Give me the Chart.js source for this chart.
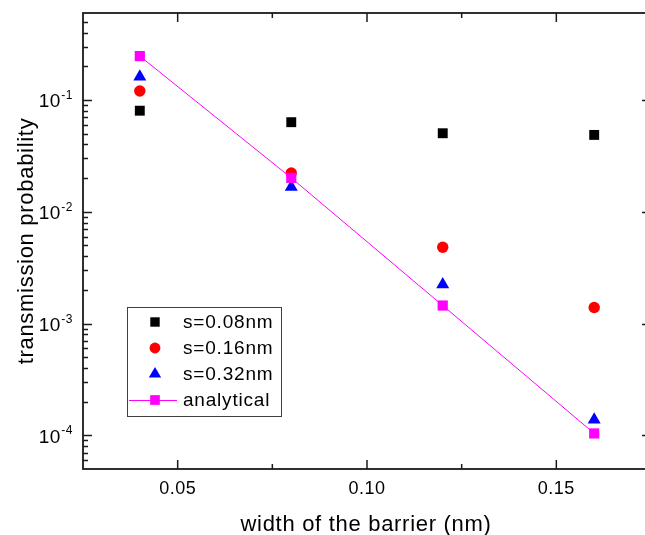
<!DOCTYPE html>
<html><head><meta charset="utf-8">
<script src="https://cdn.jsdelivr.net/npm/chart.js@4"></script>
<style>html,body{margin:0;padding:0;background:#fff;overflow:hidden;} #wrap{width:660px;height:535px;position:relative;}</style>
</head><body><div id="wrap"><canvas id="c" width="660" height="535"></canvas></div>
<script>
const widths = [0.04, 0.08, 0.12, 0.16];
const s008 = [0.0802, 0.0633, 0.0504, 0.0487];
const s016 = [0.1203, 0.0222, 0.00481, 0.00139];
const s032 = [0.161, 0.0167, 0.00224, 0.000138];
const analytical = [0.247, 0.0201, 0.00145, 0.000104];
const seriesNames = ['s=0.08nm', 's=0.16nm', 's=0.32nm', 'analytical'];
const xTickValues = [0.05, 0.10, 0.15];
const xTickLabels = ['0.05', '0.10', '0.15'];
const xMinorValues = [0.075, 0.125];
const yTickExponents = [-1, -2, -3, -4];
const xTitle = 'width of the barrier (nm)';
const yTitle = 'transmission probability';

const FONT = '"Liberation Sans", Arial, sans-serif';
const pts = arr => widths.map((x, i) => ({x: x, y: arr[i]}));

const styles = [
  {style: 'rect', r: 7, color: '#000000'},
  {style: 'circle', r: 5.7, color: '#ff0000'},
  {style: 'triangle', r: 7.5, color: '#0000ff'},
  {style: 'rect', r: 7.2, color: '#ff00ff'}
];

const decor = {
  id: 'decor',
  afterDraw(chart) {
    const ctx = chart.ctx;
    const a = chart.chartArea;
    const xs = chart.scales.x, ys = chart.scales.y;
    ctx.save();
    ctx.strokeStyle = '#1a1a1a';
    ctx.lineWidth = 1.8;
    ctx.strokeRect(a.left, a.top, a.right - a.left, a.bottom - a.top);
    ctx.lineWidth = 1.5;
    const MAJ = 9, MIN = 5;
    const line = (x1, y1, x2, y2) => { ctx.beginPath(); ctx.moveTo(x1, y1); ctx.lineTo(x2, y2); ctx.stroke(); };
    xTickValues.forEach(v => { const p = xs.getPixelForValue(v); line(p, a.bottom, p, a.bottom - MAJ); line(p, a.top, p, a.top + MAJ); });
    xMinorValues.forEach(v => { const p = xs.getPixelForValue(v); line(p, a.bottom, p, a.bottom - MIN); line(p, a.top, p, a.top + MIN); });
    for (let e = -5; e <= 0; e++) {
      for (let m = 1; m <= 9; m++) {
        const v = m * Math.pow(10, e);
        if (v <= ys.min * 1.0001 || v >= ys.max * 0.9999) continue;
        const p = Math.round(ys.getPixelForValue(v)) + 0.5;
        const L = m === 1 ? MAJ : MIN;
        line(a.left, p, a.left + L, p);
        line(a.right, p, a.right - L, p);
      }
    }
    ctx.fillStyle = '#000';
    ctx.letterSpacing = '0.5px';
    ctx.font = '18px ' + FONT;
    ctx.textAlign = 'center';
    ctx.textBaseline = 'middle';
    xTickValues.forEach((v, i) => { ctx.fillText(xTickLabels[i], xs.getPixelForValue(v), a.bottom + 20); });
    yTickExponents.forEach(e => {
      const p = ys.getPixelForValue(Math.pow(10, e));
      ctx.font = '12px ' + FONT;
      ctx.textAlign = 'right';
      ctx.textBaseline = 'alphabetic';
      const sup = String(e);
      const sw = ctx.measureText(sup).width;
      ctx.fillText(sup, 73, p - 1);
      ctx.font = '19px ' + FONT;
      ctx.textBaseline = 'middle';
      ctx.fillText('10', 73 - sw - 0.5, p + 2);
    });
    ctx.letterSpacing = '0.7px';
    ctx.font = '22px ' + FONT;
    ctx.textAlign = 'center';
    ctx.textBaseline = 'alphabetic';
    ctx.fillText(xTitle, (a.left + a.right) / 2 - 1, 531);
    ctx.save();
    ctx.translate(33, (a.top + a.bottom) / 2);
    ctx.rotate(-Math.PI / 2);
    ctx.fillText(yTitle, 0, 0);
    ctx.restore();
    // legend
    ctx.letterSpacing = '0.8px';
    ctx.strokeStyle = '#404040';
    ctx.lineWidth = 1;
    ctx.strokeRect(127.5, 307.5, 154, 109);
    ctx.font = '19px ' + FONT;
    ctx.textAlign = 'left';
    ctx.textBaseline = 'middle';
    seriesNames.forEach((name, i) => {
      const y = 322 + i * 26;
      const st = styles[i];
      if (i === 3) {
        ctx.strokeStyle = st.color; ctx.lineWidth = 1;
        line(129, y + 0.5, 177, y + 0.5);
      }
      ctx.fillStyle = st.color;
      Chart.helpers.drawPoint(ctx, {pointStyle: st.style, radius: st.r * 0.95, rotation: 0, borderWidth: 0}, 155, y);
      ctx.fillStyle = '#000';
      ctx.fillText(name, 183, y + 1);
    });
    ctx.restore();
  }
};

const mk = (i, data, ord, extra) => Object.assign({
  label: seriesNames[i], data: pts(data), showLine: false,
  pointStyle: styles[i].style, pointRadius: styles[i].r, pointHoverRadius: styles[i].r,
  pointBackgroundColor: styles[i].color, pointBorderColor: styles[i].color, pointBorderWidth: 0,
  borderColor: styles[i].color, backgroundColor: styles[i].color, order: ord
}, extra || {});

new Chart(document.getElementById('c'), {
  type: 'scatter',
  data: {
    datasets: [
      mk(0, s008, 4),
      mk(1, s016, 3),
      mk(2, s032, 2),
      mk(3, analytical, 1, {showLine: true, borderWidth: 1, tension: 0})
    ]
  },
  options: {
    responsive: false,
    devicePixelRatio: 1,
    animation: false,
    layout: {padding: {left: 83, top: 13, right: 9, bottom: 66}},
    plugins: {legend: {display: false}, tooltip: {enabled: false}},
    scales: {
      x: {type: 'linear', display: false, min: 0.025, max: 0.175},
      y: {type: 'logarithmic', display: false, min: 5e-5, max: 0.6}
    }
  },
  plugins: [decor]
});
</script>
</body></html>
